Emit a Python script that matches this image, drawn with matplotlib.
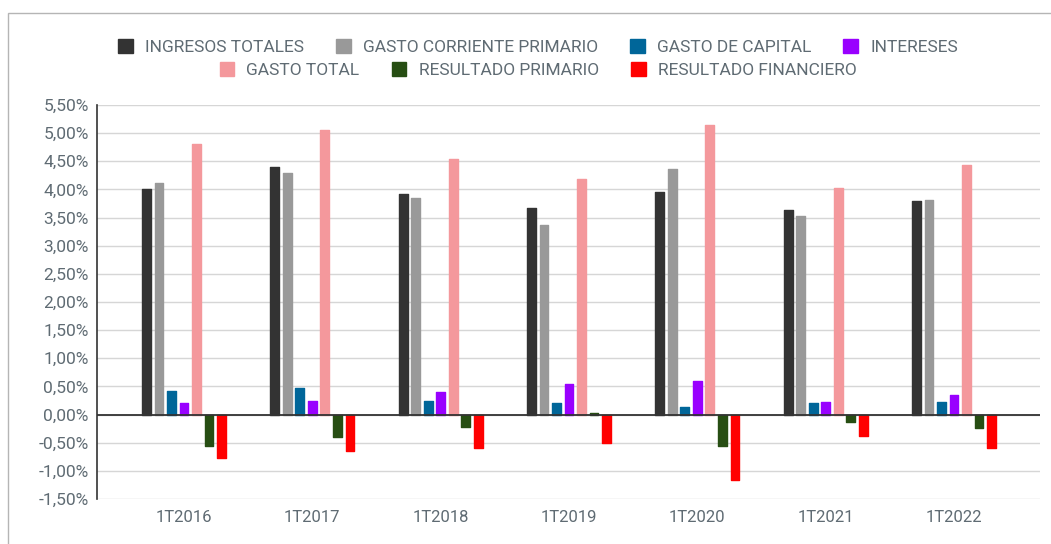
import matplotlib.pyplot as plt
import numpy as np
from matplotlib.patches import Patch, Rectangle
from matplotlib.ticker import FuncFormatter, MultipleLocator

plt.rcParams['font.family'] = ['Roboto', 'DejaVu Sans']

periodos = ['1T2016', '1T2017', '1T2018', '1T2019', '1T2020', '1T2021', '1T2022']

ingresos_totales = [4.01, 4.39, 3.92, 3.67, 3.95, 3.63, 3.80]
gasto_corriente_primario = [4.12, 4.29, 3.85, 3.37, 4.36, 3.52, 3.82]
gasto_de_capital = [0.42, 0.48, 0.25, 0.20, 0.13, 0.20, 0.23]
intereses = [0.20, 0.25, 0.40, 0.55, 0.60, 0.23, 0.35]
gasto_total = [4.81, 5.06, 4.54, 4.19, 5.14, 4.02, 4.44]
resultado_primario = [-0.55, -0.40, -0.22, 0.02, -0.55, -0.14, -0.24]
resultado_financiero = [-0.78, -0.65, -0.60, -0.50, -1.17, -0.38, -0.60]

series = [
    ('INGRESOS TOTALES', ingresos_totales, '#333333'),
    ('GASTO CORRIENTE PRIMARIO', gasto_corriente_primario, '#999999'),
    ('GASTO DE CAPITAL', gasto_de_capital, '#006699'),
    ('INTERESES', intereses, '#9900ff'),
    ('GASTO TOTAL', gasto_total, '#f4989c'),
    ('RESULTADO PRIMARIO', resultado_primario, '#274e13'),
    ('RESULTADO FINANCIERO', resultado_financiero, '#ff0000'),
]

txt = '#5f6b73'

fig = plt.figure(figsize=(10.51, 5.44), dpi=100)
ax = fig.add_axes([97 / 1051, 1 - 499 / 544, (1040 - 97) / 1051, (499 - 105) / 544])

x = np.arange(len(periodos))
paso = 0.0975
for i, (nombre, vals, col) in enumerate(series):
    ax.bar(x + (i - 3) * paso, vals, width=0.068, color=col, edgecolor=col,
           linewidth=1.0, joinstyle='round', zorder=3)

ax.set_xlim(-0.678, 6.67)
ax.set_ylim(-1.5, 5.5)
ax.yaxis.set_major_locator(MultipleLocator(0.5))
ax.yaxis.set_major_formatter(FuncFormatter(lambda v, p: f'{v:.2f}'.replace('.', ',') + '%'))
ax.set_xticks(x)
ax.set_xticklabels(periodos)
ax.tick_params(axis='both', length=0, labelcolor=txt)
ax.tick_params(axis='y', pad=6, labelsize=12.5)
ax.tick_params(axis='x', pad=8, labelsize=12)

ax.grid(axis='y', color='#d6d6d6', linewidth=1, zorder=0)
ax.axhline(0, color='#333333', linewidth=1.3, zorder=4)
for s in ['top', 'right', 'bottom']:
    ax.spines[s].set_visible(False)
ax.spines['left'].set_color('#333333')
ax.spines['left'].set_linewidth(1.2)

# leyenda en dos filas
h = [Patch(facecolor=c, edgecolor=c, label=n) for n, v, c in series]
kw = dict(frameon=False, fontsize=12.5, labelcolor=txt, handlelength=0.85, handleheight=0.85,
          handletextpad=0.7, columnspacing=1.85, borderpad=0)
fig.legend(handles=h[:4], ncol=4, loc='center', bbox_to_anchor=(538 / 1051, 1 - 47 / 544), **kw)
fig.legend(handles=h[4:], ncol=3, loc='center', bbox_to_anchor=(538 / 1051, 1 - 70 / 544), **kw)

fig.add_artist(Rectangle((8 / 1051, -0.1), 1.2, 1.1 - 13 / 544, transform=fig.transFigure,
                         fill=False, edgecolor='#b5b5b5', linewidth=1))

fig.savefig('out.png', dpi=100)
